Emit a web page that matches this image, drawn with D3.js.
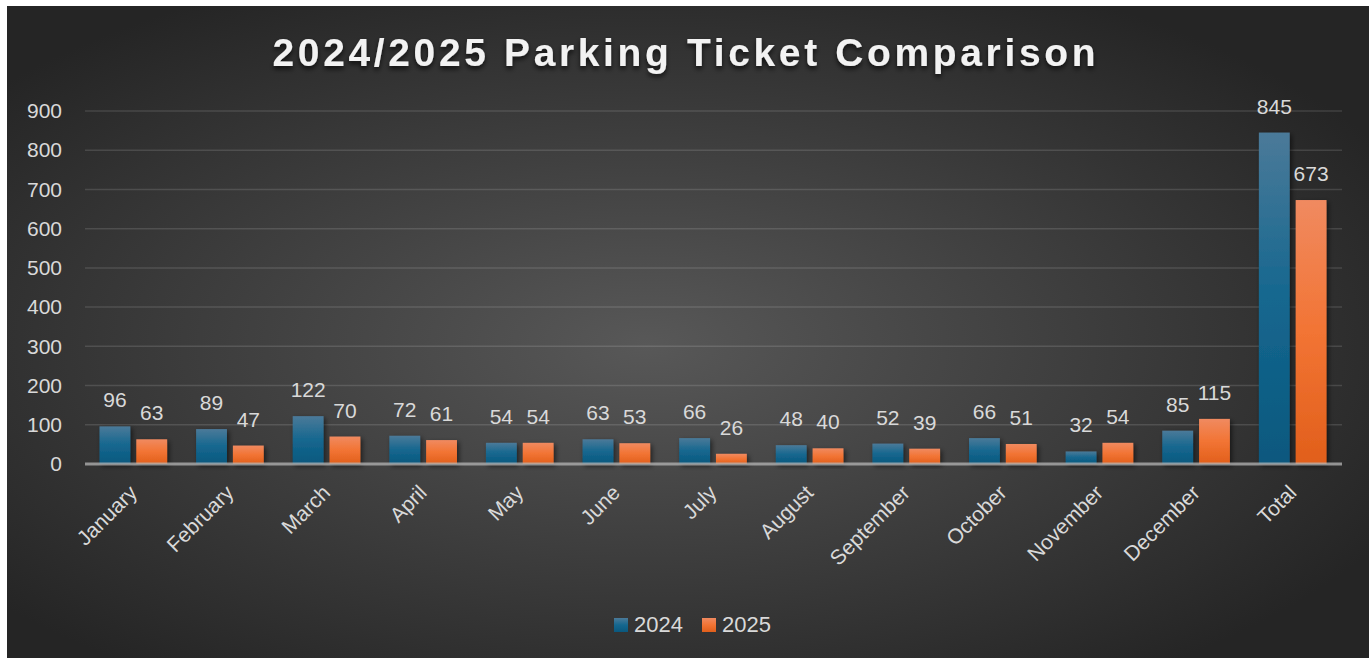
<!DOCTYPE html>
<html>
<head>
<meta charset="utf-8">
<script src="https://cdn.jsdelivr.net/npm/d3@7"></script>
<style>
  html, body { margin: 0; padding: 0; background: #ffffff; }
  svg { display: block; }
  text { font-family: "Liberation Sans", Arial, sans-serif; }
</style>
</head>
<body>
<div id="chart"></div>
<script>
// Daten
const months = ["January", "February", "March", "April", "May", "June", "July",
  "August", "September", "October", "November", "December", "Total"];
const series = ["2024", "2025"];
const values2024 = [96, 89, 122, 72, 54, 63, 66, 48, 52, 66, 32, 85, 845];
const values2025 = [63, 47, 70, 61, 54, 53, 26, 40, 39, 51, 54, 115, 673];
const yTicks = [0, 100, 200, 300, 400, 500, 600, 700, 800, 900];

function createBarChart(selector) {
    const width = 1372;
    const height = 658;

    const svg = d3.select(selector)
        .append("svg")
        .attr("width", width)
        .attr("height", height);

    const defs = svg.append("defs");

    // Hintergrund-Verlauf
    const bg = defs.append("radialGradient")
        .attr("id", "bg")
        .attr("cx", "47%").attr("cy", "52%").attr("r", "62%");
    bg.append("stop").attr("offset", "0%").attr("stop-color", "#585858");
    bg.append("stop").attr("offset", "100%").attr("stop-color", "#252525");

    // Balken-Verläufe
    const colors = {
        "2024": ["#4b7a99", "#15678f", "#0a587e"],
        "2025": ["#f08a60", "#f27434", "#e15f1b"]
    };
    series.forEach(s => {
        const g = defs.append("linearGradient")
            .attr("id", "grad" + s)
            .attr("x1", 0).attr("y1", 0).attr("x2", 0).attr("y2", 1);
        g.append("stop").attr("offset", "0%").attr("stop-color", colors[s][0]);
        g.append("stop").attr("offset", "50%").attr("stop-color", colors[s][1]);
        g.append("stop").attr("offset", "100%").attr("stop-color", colors[s][2]);
    });

    // Schatten
    const shadow = defs.append("filter").attr("id", "shadow")
        .attr("x", "-20%").attr("y", "-20%").attr("width", "150%").attr("height", "150%");
    shadow.append("feDropShadow")
        .attr("dx", 2).attr("dy", 2).attr("stdDeviation", 2.5)
        .attr("flood-color", "#000").attr("flood-opacity", 0.55);

    const titleShadow = defs.append("filter").attr("id", "titleShadow")
        .attr("x", "-5%").attr("y", "-30%").attr("width", "110%").attr("height", "170%");
    titleShadow.append("feDropShadow")
        .attr("dx", 0).attr("dy", 3).attr("stdDeviation", 2.5)
        .attr("flood-color", "#000").attr("flood-opacity", 0.7);

    // Panel
    svg.append("rect")
        .attr("x", 7).attr("y", 6)
        .attr("width", 1362).attr("height", 652)
        .attr("fill", "url(#bg)");

    // Skalen
    const x0 = d3.scaleBand()
        .domain(months)
        .range([85, 1341])
        .paddingInner(0.3)
        .paddingOuter(0.15);

    const x1 = d3.scaleBand()
        .domain(series)
        .range([0, x0.bandwidth()])
        .paddingInner(0.162);

    const y = d3.scaleLinear()
        .domain([0, 900])
        .range([464, 111]);

    // Gitterlinien
    svg.append("g")
        .selectAll("line")
        .data(yTicks.filter(d => d > 0))
        .join("line")
        .attr("x1", 85).attr("x2", 1342)
        .attr("y1", d => y(d)).attr("y2", d => y(d))
        .style("stroke", "#ffffff")
        .style("stroke-opacity", 0.13)
        .style("stroke-width", "1.5px");

    // Y-Achse
    const yAxis = svg.append("g")
        .attr("transform", "translate(85,0)")
        .call(d3.axisLeft(y).tickValues(yTicks).tickSize(0).tickPadding(23));
    yAxis.select(".domain").remove();
    yAxis.selectAll("text")
        .style("font-size", "21px")
        .style("fill", "#d9d9d9")
        .style("font-family", "'Liberation Sans', Arial, sans-serif");

    // Balken
    const rows = months.map((m, i) => ({
        month: m,
        vals: [{s: "2024", v: values2024[i]}, {s: "2025", v: values2025[i]}]
    }));

    const groups = svg.append("g")
        .selectAll("g")
        .data(rows)
        .join("g")
        .attr("transform", d => `translate(${x0(d.month)},0)`);

    groups.selectAll("rect")
        .data(d => d.vals)
        .join("rect")
        .attr("x", d => x1(d.s))
        .attr("y", d => y(d.v))
        .attr("width", x1.bandwidth())
        .attr("height", d => y(0) - y(d.v))
        .attr("fill", d => `url(#grad${d.s})`)
        .attr("filter", "url(#shadow)");

    // Grundlinie
    svg.append("line")
        .attr("x1", 85).attr("x2", 1342)
        .attr("y1", y(0)).attr("y2", y(0))
        .style("stroke", "#b5b5b5")
        .style("stroke-opacity", 0.75)
        .style("stroke-width", "3px");

    // Werte anzeigen
    groups.selectAll(".value-text")
        .data(d => d.vals)
        .join("text")
        .attr("class", "value-text")
        .attr("x", d => x1(d.s) + x1.bandwidth() / 2)
        .attr("y", d => y(d.v) - 19)
        .attr("text-anchor", "middle")
        .style("font-size", "21px")
        .style("fill", "#d9d9d9")
        .text(d => d.v);

    // X-Beschriftungen
    svg.append("g")
        .selectAll("text")
        .data(months)
        .join("text")
        .attr("text-anchor", "end")
        .attr("transform", d => `translate(${x0(d) + x0.bandwidth() / 2 + 5},494) rotate(-45)`)
        .style("font-size", "21px")
        .style("fill", "#d9d9d9")
        .text(d => d);

    // Titel
    const title = svg.append("text")
        .attr("x", 684)
        .attr("y", 66)
        .attr("text-anchor", "middle")
        .attr("filter", "url(#titleShadow)")
        .style("font-family", "'Liberation Sans Narrow', 'Liberation Sans', Arial, sans-serif")
        .style("font-weight", "bold")
        .style("font-size", "39px")
        .style("fill", "#f2f2f2")
        .style("letter-spacing", "0px")
        .text("2024/2025 Parking Ticket Comparison");
    // Laufweite an die Vorlage anpassen
    const len = title.node().getComputedTextLength();
    const chars = title.text().length;
    const spacing = (823 - len) / (chars - 1);
    title.style("letter-spacing", spacing + "px")
        .attr("x", 684 + spacing / 2);

    // Legende
    const legend = svg.append("g")
        .selectAll("g")
        .data(series)
        .join("g")
        .attr("transform", (d, i) => `translate(${614 + i * 88},618)`);
    legend.append("rect")
        .attr("width", 14).attr("height", 14)
        .attr("fill", d => `url(#grad${d})`);
    legend.append("text")
        .attr("x", 20).attr("y", 14)
        .style("font-size", "22px")
        .style("fill", "#d9d9d9")
        .text(d => d);
}

createBarChart("#chart");
</script>
</body>
</html>
